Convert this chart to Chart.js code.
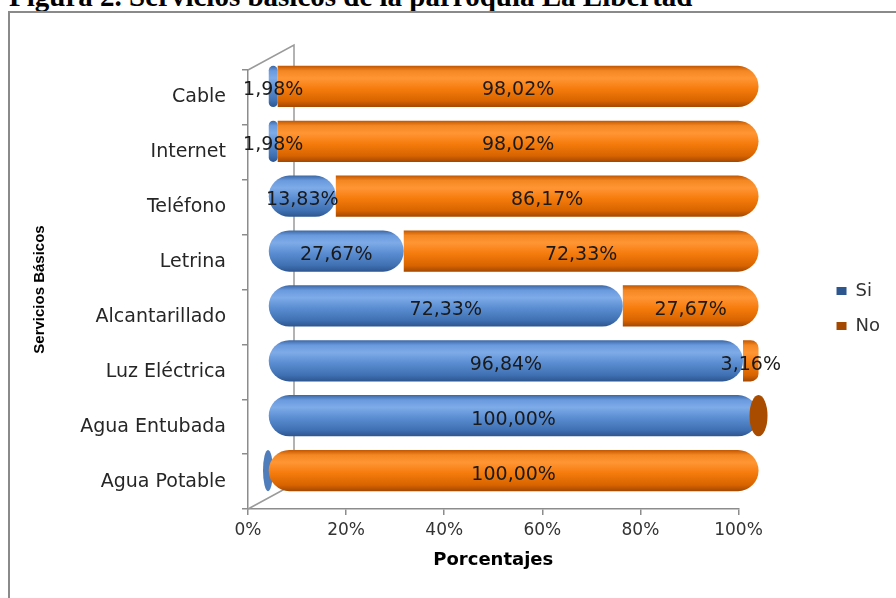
<!DOCTYPE html>
<html>
<head>
<meta charset="utf-8">
<script src="https://cdn.jsdelivr.net/npm/chart.js@4.4.0/dist/chart.umd.min.js"></script>
<style>
    html, body { margin: 0; padding: 0; background: #fff; }
    #page { position: relative; width: 896px; height: 598px; overflow: hidden; }
    #title { position: absolute; left: 9px; top: -18px; font: bold 29px/29px 'Liberation Serif', serif; white-space: nowrap; color: #000; }
    #frame { position: absolute; left: 8px; top: 11px; width: 920px; height: 620px; border: 2px solid #8a8a8a; box-sizing: border-box; }
    #chart { position: absolute; left: 0; top: 0; }
</style>
</head>
<body>
<div id="page">
    <div id="title">Figura 2. Servicios básicos de la parroquia La Libertad</div>
    <div id="frame"></div>
    <canvas id="chart" width="896" height="598"></canvas>
</div>
<script>
const categories = ['Cable', 'Internet', 'Teléfono', 'Letrina', 'Alcantarillado', 'Luz Eléctrica', 'Agua Entubada', 'Agua Potable'];
const siValues = [1.98, 1.98, 13.83, 27.67, 72.33, 96.84, 100, 0];
const noValues = [98.02, 98.02, 86.17, 72.33, 27.67, 3.16, 0, 100];
const xTicks = [0, 20, 40, 60, 80, 100];

const barPercent = 0.75;
const depthX = 20, depthY = -11;

const blueStops = [[0, '#3b67a5'], [0.12, '#6a9ade'], [0.3, '#7eabe8'], [0.55, '#5a8dd2'], [0.85, '#3f70b2'], [1, '#2d568f']];
const orangeStops = [[0, '#c25600'], [0.12, '#f38722'], [0.3, '#ff9634'], [0.55, '#f67c0d'], [0.85, '#d86400'], [1, '#a44800']];

function cylinderFill(stops, solid) {
    return function (context) {
        const chart = context.chart;
        const yScale = chart.scales.y;
        if (context.type !== 'data' || !chart.chartArea || !yScale) {
            return solid;
        }
        const band = (yScale.bottom - yScale.top) / categories.length;
        const half = band * barPercent / 2;
        const yc = yScale.getPixelForValue(context.dataIndex);
        const g = chart.ctx.createLinearGradient(0, yc - half, 0, yc + half);
        stops.forEach(function (s) { g.addColorStop(s[0], s[1]); });
        return g;
    };
}

function formatPercent(v) {
    return v.toFixed(2).replace('.', ',') + '%';
}

// 3D look: back wall lines, bars shifted into depth, flat caps for zero values, labels
const depthPlugin = {
    id: 'depth',
    beforeDatasetsDraw(chart) {
        const {ctx, chartArea: {left, top, bottom}} = chart;
        ctx.save();
        ctx.strokeStyle = '#9a9a9a';
        ctx.lineWidth = 1.5;
        ctx.beginPath();
        ctx.moveTo(left, top);
        ctx.lineTo(left + 46, top - 25);
        ctx.lineTo(left + 46, bottom - 25);
        ctx.lineTo(left, bottom);
        ctx.stroke();
        ctx.restore();

        ctx.save();
        ctx.translate(depthX, depthY);
        drawZeroCaps(chart, 0, siValues, '#4f7dbb', 5);
    },
    afterDatasetsDraw(chart) {
        const ctx = chart.ctx;
        drawZeroCaps(chart, 1, noValues, '#a94c00', 9);

        ctx.font = '19px "DejaVu Sans"';
        ctx.fillStyle = '#1a1a1a';
        ctx.textAlign = 'center';
        ctx.textBaseline = 'middle';
        [siValues, noValues].forEach(function (values, i) {
            chart.getDatasetMeta(i).data.forEach(function (el, j) {
                if (!values[j]) return;
                const p = el.getProps(['x', 'base', 'y'], true);
                ctx.fillText(formatPercent(values[j]), (p.x + p.base) / 2, p.y + 4);
            });
        });
        ctx.restore();
    }
};

function drawZeroCaps(chart, datasetIndex, values, color, rx) {
    const ctx = chart.ctx;
    chart.getDatasetMeta(datasetIndex).data.forEach(function (el, j) {
        if (values[j] !== 0) return;
        const p = el.getProps(['x', 'y', 'height'], true);
        ctx.fillStyle = color;
        ctx.beginPath();
        ctx.ellipse(p.x, p.y, rx, p.height / 2, 0, 0, Math.PI * 2);
        ctx.fill();
    });
}

Chart.defaults.font.family = '"DejaVu Sans", sans-serif';
Chart.defaults.color = '#333';

const R = 21;
new Chart(document.getElementById('chart').getContext('2d'), {
    type: 'bar',
    data: {
        labels: categories,
        datasets: [{
            label: 'Si',
            data: siValues,
            backgroundColor: cylinderFill(blueStops, '#5a8dd2'),
            borderWidth: 0,
            borderSkipped: false,
            borderRadius: {topLeft: R, bottomLeft: R, topRight: R, bottomRight: R}
        }, {
            label: 'No',
            data: noValues,
            backgroundColor: cylinderFill(orangeStops, '#ef7a12'),
            borderWidth: 0,
            borderSkipped: false,
            borderRadius: function (context) {
                const l = siValues[context.dataIndex] === 0 ? R : 0;
                return {topLeft: l, bottomLeft: l, topRight: R, bottomRight: R};
            }
        }]
    },
    options: {
        responsive: false,
        animation: false,
        indexAxis: 'y',
        categoryPercentage: 1,
        barPercentage: barPercent,
        clip: false,
        layout: {padding: {left: 31, top: 70, right: 6, bottom: 19}},
        scales: {
            x: {
                stacked: true,
                min: 0,
                max: 100,
                afterFit: function (scale) { scale.height = 70; },
                afterBuildTicks: function (scale) { scale.ticks = xTicks.map(function (v) { return {value: v}; }); },
                ticks: {font: {size: 17}, color: '#333', padding: 5, callback: function (v) { return v + '%'; }},
                grid: {drawOnChartArea: false, tickLength: 6, color: '#8c8c8c', lineWidth: 1.5},
                border: {color: '#8c8c8c', width: 1.5},
                title: {display: true, text: 'Porcentajes', color: '#000', font: {size: 18, weight: 'bold'}, padding: {top: 4, bottom: 8}}
            },
            y: {
                stacked: true,
                afterFit: function (scale) { scale.width = 217; },
                ticks: {font: {size: 19}, color: '#262626', padding: 16},
                grid: {drawOnChartArea: false, tickLength: 6, color: '#8c8c8c', lineWidth: 1.5},
                border: {color: '#8c8c8c', width: 1.5},
                title: {display: true, text: 'Servicios Básicos', color: '#000', font: {family: '"Liberation Sans", sans-serif', size: 15, weight: 'bold'}, padding: {top: 0, bottom: 0}}
            },
            gap: {
                type: 'linear',
                axis: 'y',
                position: 'right',
                ticks: {display: false},
                grid: {display: false},
                border: {display: false},
                afterFit: function (scale) { scale.width = 81; }
            }
        },
        plugins: {
            tooltip: {enabled: false},
            legend: {
                position: 'right',
                fullSize: false,
                title: {display: true, text: '', font: {size: 10}, padding: {top: 13, bottom: 13}},
                labels: {boxWidth: 10, boxHeight: 8, padding: 17, color: '#333', font: {size: 18}}
            }
        }
    },
    plugins: [depthPlugin]
});
</script>
</body>
</html>
